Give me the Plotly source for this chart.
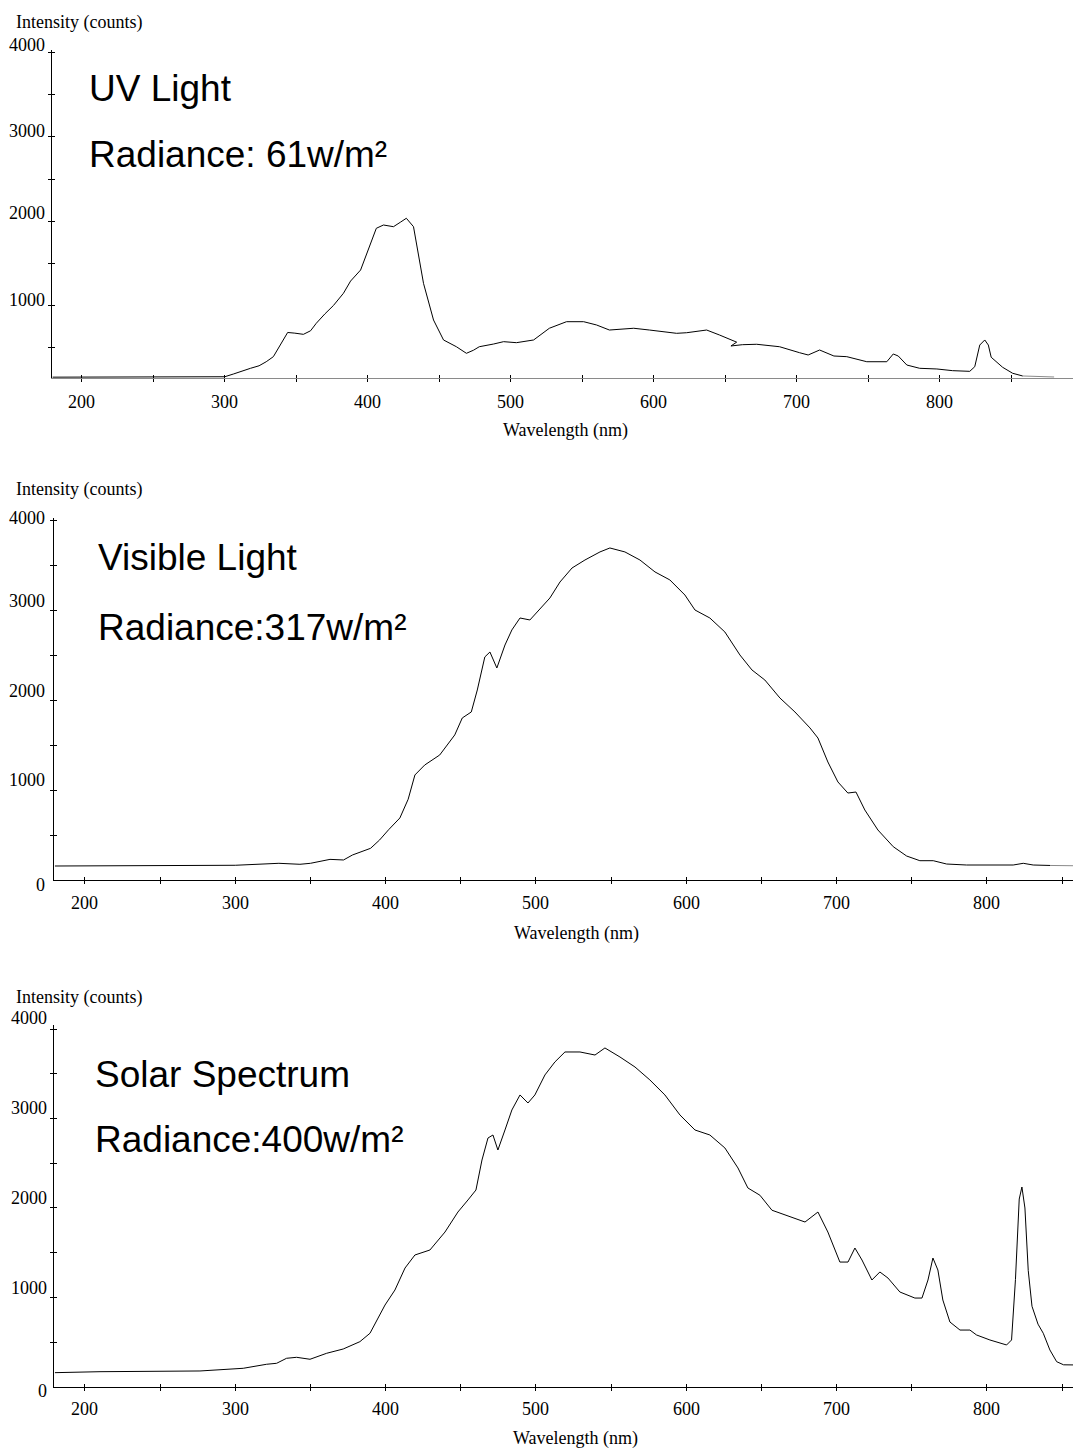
import plotly.graph_objects as go

W, H = 1081, 1448
OFF = 8  # page body margin added by the browser
FW, FH = W - OFF, H - OFF

# ---------------- data ----------------
uv_wl = [179.5, 200, 250, 300, 306, 312, 318, 324, 329, 334, 339, 344, 349, 355, 360, 364, 370, 376,
         383, 388, 395, 400, 406, 411, 418, 423, 427, 432, 434, 439, 446, 453, 462, 469, 474, 478,
         488, 495, 504, 516, 527, 539, 551, 560, 569, 586, 597, 609, 616, 623, 637, 646, 652, 658,
         654, 662, 672, 688, 702, 708, 716, 726, 735, 749, 763, 767.5, 771, 777, 786, 798, 809, 821,
         824.5, 828, 831.5, 834, 836, 844, 851, 858]
uv_counts = [150, 150, 152, 155, 187, 225, 255, 285, 333, 393, 530, 680, 672, 658, 700, 789, 900, 1000,
             1145, 1290, 1421, 1640, 1916, 1955, 1935, 1990, 2035, 1935, 1738, 1263, 828, 591, 511, 433, 470, 511,
             543, 571, 559, 591, 730, 808, 808, 769, 709, 730, 709, 690, 670, 677, 709, 650, 610, 565,
             520, 535, 540, 511, 440, 413, 472, 401, 393, 333, 333, 425, 401, 294, 255, 247, 227, 219,
             274, 531, 591, 531, 386, 267, 196, 164]
uv_tail_wl = [858, 880]
uv_tail_counts = [164, 152]

vis_wl = [180, 200, 250, 300, 329, 343, 350, 363, 372, 378, 390, 396, 402, 409.5, 415, 419.5, 426, 436,
          446, 451, 457, 461, 466, 469.4, 474, 479.4, 484, 489.4, 496, 500.7, 509.3, 516, 524, 532.6,
          542.6, 549.2, 559.2, 569.2, 579.2, 589.1, 599.1, 605.8, 615.7, 625.7, 635.7, 643.7, 652.3,
          662.3, 672.3, 682.3, 687.6, 694.2, 700.9, 707.5, 712.9, 718.8, 727.5, 737.7, 746.6, 755.4,
          764.3, 773.2, 786.5, 817.5, 824.2, 830.8, 842]
vis_counts = [156, 158, 160, 164, 186, 175, 186, 230, 223, 279, 353, 446, 560, 691, 900, 1170, 1281, 1393,
              1616, 1805, 1872, 2117, 2485, 2540, 2362, 2618, 2786, 2919, 2897, 2986, 3142, 3320, 3476, 3565,
              3655, 3699, 3655, 3565, 3432, 3343, 3175, 3008, 2919, 2763, 2507, 2340, 2228,
              2028, 1872, 1694, 1582, 1315, 1092, 969, 980, 780, 557, 371, 267, 215,
              215, 178, 167, 167, 186, 167, 162]
vis_tail_wl = [842, 862.6]
vis_tail_counts = [162, 158]

sol_wl = [180, 210, 276.5, 298.7, 305.3, 320.8, 327.5, 334.1, 340.8, 349.7, 360.8, 371.8, 382.9, 389.6,
          399.6, 406.2, 412.9, 419.5, 429.5, 439.5, 448.1, 454.8, 460.1, 464.1, 468.1, 471.4, 474.7,
          479.4, 484.0, 489.4, 494.7, 499.3, 506.0, 512.6, 519.3, 529.3, 539.3, 545.9, 555.9, 565.9,
          575.8, 585.8, 595.8, 605.8, 615.7, 625.7, 634.4, 641.0, 649.0, 657.0, 669.0, 679.0, 687.6,
          694.2, 702.2, 707.6, 712.2, 716.9, 723.5, 728.8, 734.2, 742.1, 752.1, 756.8, 760.8, 764.1,
          767.4, 770.7, 775.4, 782.1, 788.7, 793.1, 802, 813.1, 816.4, 819, 821.5, 823.3, 825.3, 827.5,
          830, 834, 837.5, 841.9, 846.4, 851, 862]
sol_counts = [157, 168, 176, 198, 206, 251, 262, 318, 329, 307, 374, 422, 504, 598,
              914, 1082, 1328, 1474, 1530, 1731, 1955, 2090, 2201, 2537, 2783, 2817, 2649,
              2873, 3097, 3265, 3175, 3265, 3489, 3634, 3746, 3746, 3712, 3791, 3690, 3578,
              3433, 3265, 3041, 2873, 2817, 2672, 2448, 2224, 2143, 1975, 1899, 1843, 1955,
              1731, 1395, 1395, 1552, 1418, 1194, 1284, 1216, 1060, 992, 992, 1194, 1440,
              1306, 970, 724, 634, 634, 579, 523, 467, 523, 1200, 2100, 2235, 2000, 1300,
              900, 700, 598, 411, 280, 245, 243]

x_tick_vals = [200, 250, 300, 350, 400, 450, 500, 550, 600, 650, 700, 750, 800, 850]
x_label_vals = [200, 300, 400, 500, 600, 700, 800]
y_tick_vals = [500, 1000, 1500, 2000, 2500, 3000, 3500, 4000]
y_label_vals_uv = [1000, 2000, 3000, 4000]
y_label_vals = [0, 1000, 2000, 3000, 4000]

titles = ["UV Light", "Visible Light", "Solar Spectrum"]
radiances = ["Radiance: 61w/m²", "Radiance:317w/m²", "Radiance:400w/m²"]
y_title = "Intensity (counts)"
x_title = "Wavelength (nm)"


def fx(px):
    return (px - OFF) / FW


def fy(py):
    return 1 - (py - OFF) / FH


# ---------------- layout geometry (page pixels) ----------------
panels = [
    dict(wl=uv_wl, c=uv_counts, twl=uv_tail_wl, tc=uv_tail_counts,
         left=52.3, bottom=378, top=50, xr=[179.4, 898.8], yr=[140, 4031],
         ylabels=y_label_vals_uv, yshift={1000: 6, 2000: 8, 3000: 6, 4000: 8}, xcol="#8a8a8a",
         ytit=23, xtit=(565, 430), t1=(87, 88), t2=(87, 155), lgap=5, xls=-24),
    dict(wl=vis_wl, c=vis_counts, twl=vis_tail_wl, tc=vis_tail_counts,
         left=54.3, bottom=880, top=518, xr=[179.6, 862.6], yr=[0, 4033],
         ylabels=y_label_vals, yshift={0: -5, 1000: 10, 2000: 9, 3000: 10, 4000: 3}, xcol="black",
         ytit=490, xtit=(576, 933), t1=(96, 557), t2=(96, 627), lgap=7, xls=-23),
    dict(wl=sol_wl, c=sol_counts, twl=None, tc=None,
         left=54.3, bottom=1386.7, top=1025, xr=[179.6, 862.6], yr=[0, 4048],
         ylabels=y_label_vals, yshift={0: -4, 1000: 9, 2000: 10, 3000: 11, 4000: 11}, xcol="black",
         ytit=997, xtit=(575, 1438), t1=(93, 1074), t2=(93, 1139), lgap=5, xls=-22),
]

serif = "Liberation Serif"
sans = "Liberation Sans"
tick_font = dict(family=serif, size=18, color="black")
big_font = dict(family=sans, size=37, color="black")

fig = go.Figure()
annotations = []
layout = dict(width=FW, height=FH, margin=dict(l=0, r=0, t=0, b=0, pad=0), showlegend=False,
              paper_bgcolor="white", plot_bgcolor="white")

for i, p in enumerate(panels):
    n = i + 1
    xa = "x" if n == 1 else f"x{n}"
    ya = "y" if n == 1 else f"y{n}"
    xo = f"x{n + 3}"
    yo = f"y{n + 3}"
    xdom = [fx(p["left"]), 1.0]
    ydom = [fy(p["bottom"]), fy(p["top"])]

    if p["twl"] is not None:
        fig.add_trace(go.Scatter(x=p["twl"], y=p["tc"], mode="lines", xaxis=xa, yaxis=ya,
                                 line=dict(color="#8a8a8a", width=1), hoverinfo="skip"))
    fig.add_trace(go.Scatter(x=p["wl"], y=p["c"], mode="lines", xaxis=xa, yaxis=ya,
                             line=dict(color="black", width=1), hoverinfo="skip"))
    # helper traces so the overlay axes (inner half of the crossing ticks) are drawn
    fig.add_trace(go.Scatter(x=[], y=[], xaxis=xo, yaxis=ya, hoverinfo="skip"))
    fig.add_trace(go.Scatter(x=[], y=[], xaxis=xa, yaxis=yo, hoverinfo="skip"))

    kx = "xaxis" if n == 1 else f"xaxis{n}"
    ky = "yaxis" if n == 1 else f"yaxis{n}"
    common = dict(showgrid=False, zeroline=False, showticklabels=False, tickmode="array",
                  tickcolor="black", tickwidth=1, ticklen=3)
    layout[kx] = dict(domain=xdom, range=p["xr"], anchor=ya, showline=True, linecolor=p["xcol"],
                      linewidth=1, ticks="outside", tickvals=x_tick_vals, **common)
    layout[ky] = dict(domain=ydom, range=p["yr"], anchor=xa, showline=True, linecolor="black",
                      linewidth=1, ticks="outside", tickvals=y_tick_vals, **common)
    layout[f"xaxis{n + 3}"] = dict(overlaying=xa, anchor=ya, side="bottom", range=p["xr"],
                                   showline=False, ticks="inside", tickvals=x_tick_vals, **common)
    layout[f"yaxis{n + 3}"] = dict(overlaying=ya, anchor=xa, side="left", range=p["yr"],
                                   showline=False, ticks="inside", tickvals=y_tick_vals, **common)

    # y tick labels
    for v in p["ylabels"]:
        annotations.append(dict(xref="paper", x=fx(p["left"] - p["lgap"]), xanchor="right",
                                yref=ya, y=v, yanchor="middle", yshift=p["yshift"][v],
                                text=str(v), showarrow=False, font=tick_font))
    # x tick labels
    for v in x_label_vals:
        annotations.append(dict(xref=xa, x=v, xanchor="center", yref="paper", y=fy(p["bottom"]),
                                yanchor="middle", yshift=p["xls"], text=str(v), showarrow=False,
                                font=tick_font))
    # axis titles
    annotations.append(dict(xref="paper", x=fx(14), xanchor="left", yref="paper",
                            y=fy(p["ytit"]), yanchor="middle", text=y_title, showarrow=False,
                            font=tick_font))
    annotations.append(dict(xref="paper", x=fx(p["xtit"][0]), xanchor="center", yref="paper",
                            y=fy(p["xtit"][1]), yanchor="middle", text=x_title, showarrow=False,
                            font=tick_font))
    # big labels
    annotations.append(dict(xref="paper", x=fx(p["t1"][0]), xanchor="left", yref="paper",
                            y=fy(p["t1"][1]), yanchor="middle", text=titles[i], showarrow=False,
                            font=big_font))
    annotations.append(dict(xref="paper", x=fx(p["t2"][0]), xanchor="left", yref="paper",
                            y=fy(p["t2"][1]), yanchor="middle", text=radiances[i], showarrow=False,
                            font=big_font))

layout["annotations"] = annotations
fig.update_layout(**layout)
fig.write_html("out.html")
